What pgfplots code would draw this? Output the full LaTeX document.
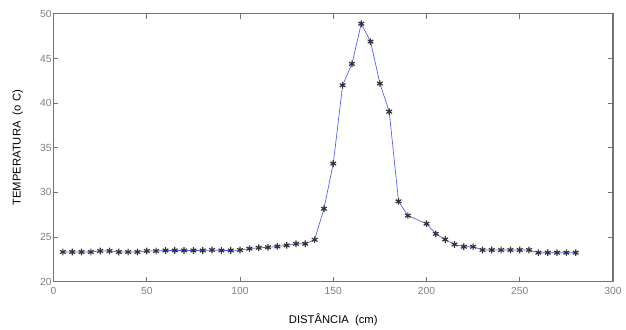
\documentclass[border=0pt]{standalone}
\usepackage{pgfplots}
\pgfplotsset{compat=1.18}
\usepackage{fontspec}
\setmainfont{Liberation Sans}
\definecolor{axgray}{gray}{0.45}
\definecolor{tickgray}{gray}{0.5}
\definecolor{lineblue}{rgb}{0.3,0.35,1}
\begin{document}
\begin{tikzpicture}
\begin{axis}[
  scale only axis,
  width=423pt, height=202.5pt,
  xmin=0, xmax=300, ymin=20, ymax=50,
  xtick={0,50,...,300}, ytick={20,25,...,50},
  tick align=inside,
  major tick length=3.5pt,
  axis line style={axgray, line width=0.8pt},
  every tick/.style={axgray, line width=0.6pt},
  tick label style={font=\fontsize{7.8}{8}\selectfont, text=tickgray},
  /pgf/number format/assume math mode=true,
  xlabel={DISTÂNCIA \ (cm)},
  ylabel={TEMPERATURA \ (o C)},
  label style={font=\fontsize{8.5}{9}\selectfont},
  xlabel style={yshift=-7pt},
  ylabel style={yshift=6pt},
  xticklabel style={yshift=-1pt},
  yticklabel style={xshift=2pt},
]
\addplot[color=lineblue, line width=0.5pt, mark=asterisk, mark size=2.5pt,
  mark options={black!80, line width=0.9pt}] coordinates {
(5,23.33) (10,23.33) (15,23.33) (20,23.33) (25,23.44) (30,23.44) (35,23.33)
(40,23.33) (45,23.33) (50,23.44) (55,23.44) (60,23.5) (65,23.5) (70,23.5)
(75,23.5) (80,23.5) (85,23.55) (90,23.5) (95,23.5) (100,23.55) (105,23.7)
(110,23.8) (115,23.85) (120,23.95) (125,24.07) (130,24.25) (135,24.25)
(140,24.7) (145,28.17) (150,33.24) (155,42.0) (160,44.4) (165,48.9)
(170,46.9) (175,42.2) (180,39.05) (185,29.0) (190,27.4) (200,26.5)
(205,25.36) (210,24.73) (215,24.17) (220,23.92) (225,23.92) (230,23.55)
(235,23.55) (240,23.55) (245,23.55) (250,23.55) (255,23.55) (260,23.25)
(265,23.25) (270,23.25) (275,23.25) (280,23.25)
};
\end{axis}
\path ([shift={(-40.5pt,-33.75pt)}]current axis.south west) rectangle ([shift={(6pt,10.5pt)}]current axis.north east);
\end{tikzpicture}
\end{document}
